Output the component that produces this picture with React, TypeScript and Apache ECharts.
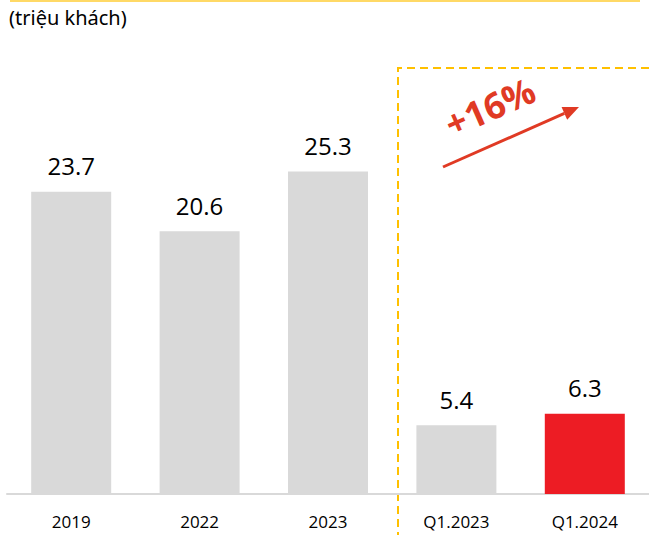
import React, { useEffect, useRef } from "react";
import * as echarts from "echarts";

const categories = ["2019", "2022", "2023", "Q1.2023", "Q1.2024"];
const values = [23.7, 20.6, 25.3, 5.4, 6.3];
const highlightIndex = 4;
const unitLabel = "(triệu khách)";
const growthLabel = "+16%";

export default function App() {
  const ref = useRef<HTMLDivElement>(null);
  useEffect(() => {
    if (!ref.current) return;
    const chart = echarts.init(ref.current, null, { renderer: "svg" });
    const end = [579, 107];
    const start = [443, 167];
    const dx = end[0] - start[0];
    const dy = end[1] - start[1];
    const len = Math.sqrt(dx * dx + dy * dy);
    const ux = dx / len, uy = dy / len;
    const nx = -uy, ny = ux;
    const hl = 16, hw = 7;
    const bx = end[0] - hl * ux, by = end[1] - hl * uy;
    const angle = Math.atan2(-dy, dx);
    chart.setOption({
      animation: false,
      grid: { left: 7, right: 0, top: 111.5, bottom: 41 },
      xAxis: {
        type: "category",
        data: categories,
        axisLine: { lineStyle: { color: "#d9d9d9", width: 2 } },
        axisTick: { show: false },
        axisLabel: { color: "#000", fontSize: 17, margin: 19, fontFamily: "Open Sans" },
      },
      yAxis: { type: "value", min: 0, max: 30, show: false, splitLine: { show: false } },
      series: [
        {
          type: "bar",
          barWidth: 80,
          data: values.map((v, i) => ({
            value: v,
            itemStyle: { color: i === highlightIndex ? "#ed1c24" : "#d9d9d9" },
          })),
          label: {
            show: true,
            position: "top",
            distance: 14,
            color: "#000",
            fontSize: 24,
            fontFamily: "Open Sans",
          },
        },
      ],
      graphic: [
        {
          type: "line",
          shape: { x1: 10, y1: 1, x2: 640, y2: 1 },
          style: { stroke: "#ffd966", lineWidth: 2 },
        },
        {
          type: "text",
          left: 9,
          top: 7,
          style: { text: unitLabel, fontSize: 20, fill: "#000", fontFamily: "Noto Sans" },
        },
        {
          type: "polyline",
          shape: { points: [[649, 68], [398, 68], [398, 535]] },
          style: { stroke: "#ffc000", lineWidth: 2, lineDash: [8, 5], fill: null },
        },
        {
          type: "line",
          shape: { x1: start[0], y1: start[1], x2: bx, y2: by },
          style: { stroke: "#e03a24", lineWidth: 3 },
        },
        {
          type: "polygon",
          shape: {
            points: [
              [end[0], end[1]],
              [bx + hw * nx, by + hw * ny],
              [bx - hw * nx, by - hw * ny],
            ],
          },
          style: { fill: "#e03a24" },
        },
        {
          type: "text",
          x: 490,
          y: 107,
          rotation: angle,
          style: {
            text: growthLabel,
            fontSize: 36,
            fontWeight: "bold",
            fill: "#e03a24",
            fontFamily: "Open Sans",
            align: "center",
            verticalAlign: "middle",
          },
        },
      ],
    });
    return () => chart.dispose();
  }, []);
  return <div ref={ref} style={{ width: 649, height: 535, position: "absolute", left: 0, top: 0 }} />;
}
